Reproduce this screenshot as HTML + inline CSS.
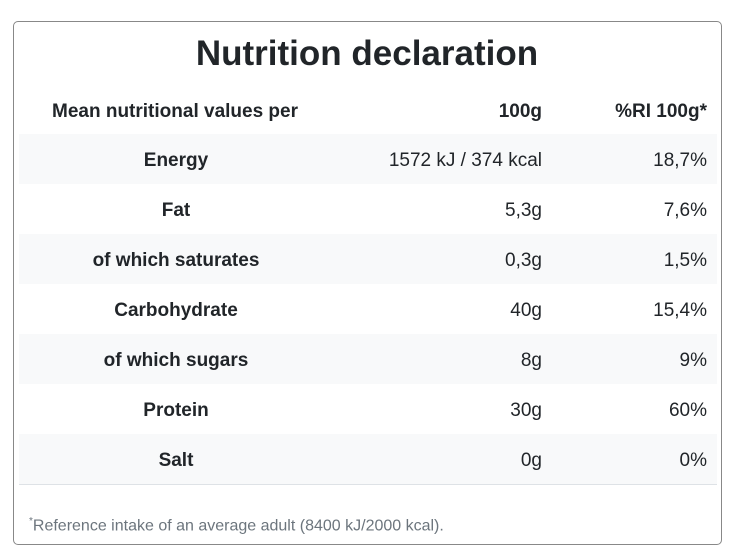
<!DOCTYPE html>
<html><head><style>
body{margin:0;width:734px;height:557px;background:#fff;position:relative;font-family:"Liberation Sans",sans-serif;}
.box{position:absolute;left:13px;top:21px;width:707px;height:522px;border:1px solid #888;border-radius:5px;}
h1{position:absolute;left:0;width:734px;top:32px;margin:0;text-align:center;font-size:35px;font-weight:bold;color:#212529;line-height:44px;}
.row{position:absolute;left:19px;width:698px;height:50px;line-height:54px;font-size:19px;color:#212529;}
.row.s{background:#f8f9fa;}
.l{position:absolute;left:0;width:314px;text-align:center;}
.v{position:absolute;right:175px;}
.p{position:absolute;right:10px;}
.b{border-bottom:1px solid #dee2e6;}
.foot{position:absolute;left:29px;top:516px;font-size:16px;color:#6c757d;}
</style></head><body>
<div class="box"></div>
<h1>Nutrition declaration</h1>
<div class="row" style="top:85px;font-weight:bold"><span class="l" style="left:33px;width:auto">Mean nutritional values per</span><span class="v">100g</span><span class="p">%RI 100g*</span></div>
<div class="row s" style="top:134px"><span class="l"><b>Energy</b></span><span class="v">1572 kJ / 374 kcal</span><span class="p">18,7%</span></div>
<div class="row" style="top:184px"><span class="l"><b>Fat</b></span><span class="v">5,3g</span><span class="p">7,6%</span></div>
<div class="row s" style="top:234px"><span class="l"><b>of which saturates</b></span><span class="v">0,3g</span><span class="p">1,5%</span></div>
<div class="row" style="top:284px"><span class="l"><b>Carbohydrate</b></span><span class="v">40g</span><span class="p">15,4%</span></div>
<div class="row s" style="top:334px"><span class="l"><b>of which sugars</b></span><span class="v">8g</span><span class="p">9%</span></div>
<div class="row" style="top:384px"><span class="l"><b>Protein</b></span><span class="v">30g</span><span class="p">60%</span></div>
<div class="row s b" style="top:434px"><span class="l"><b>Salt</b></span><span class="v">0g</span><span class="p">0%</span></div>
<div class="foot"><sup style="font-size:10px">*</sup>Reference intake of an average adult (8400 kJ/2000 kcal).</div>
</body></html>
